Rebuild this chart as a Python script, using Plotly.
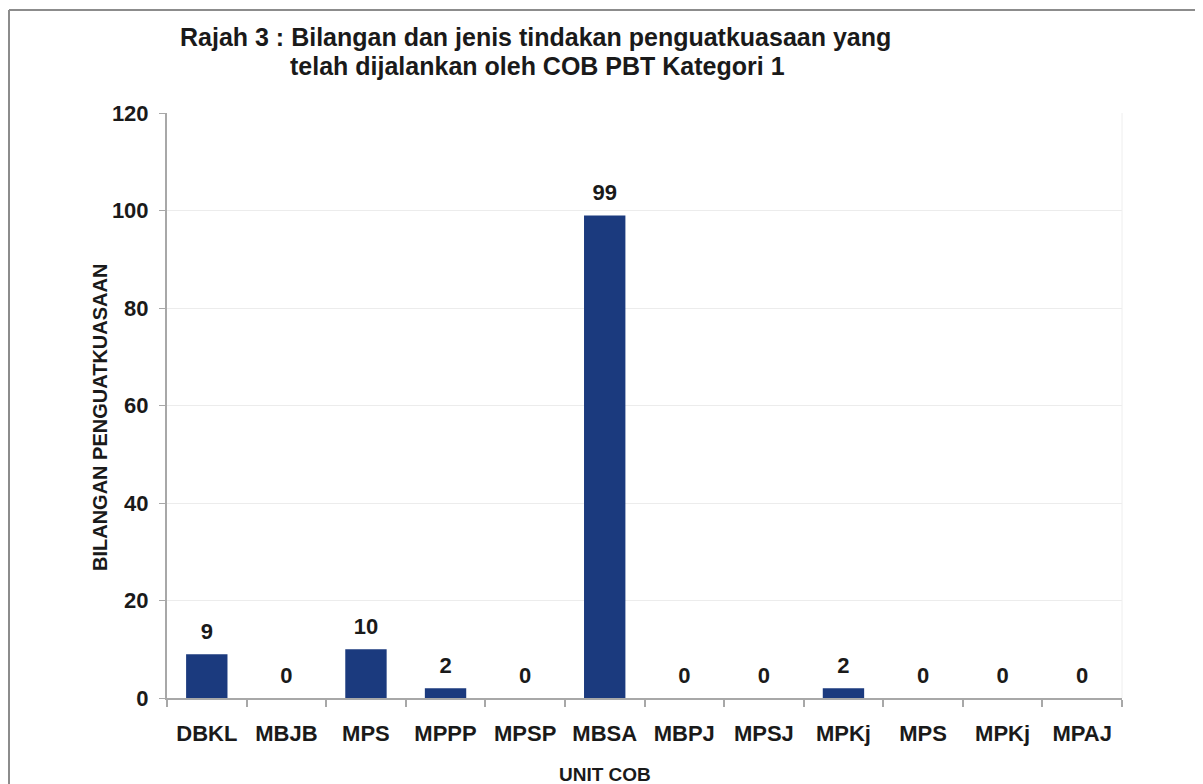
import plotly.graph_objects as go

categories = ["DBKL", "MBJB", "MPS", "MPPP", "MPSP", "MBSA", "MBPJ", "MPSJ", "MPKj", "MPS", "MPKj", "MPAJ"]
values = [9, 0, 10, 2, 0, 99, 0, 0, 2, 0, 0, 0]
y_ticks = [0, 20, 40, 60, 80, 100, 120]

title_line1 = "Rajah 3 : Bilangan dan jenis tindakan penguatkuasaan yang"
title_line2 = "telah dijalankan oleh COB PBT Kategori 1"
x_title = "UNIT COB"
y_title = "BILANGAN PENGUATKUASAAN"

FONT = "Liberation Sans, Arial, sans-serif"
INK = "#1a1a1a"
BAR = "#1b3a7e"
AXIS = "#a8a8a8"

positions = list(range(len(categories)))

# page offset (body margin) so that figure coords = page coords - OFF
OFF = 8
W, H = 1195, 776
L = 167 - OFF
PR = 1122 - OFF
T = 113 - OFF
PB = 698 - OFF
R, B = W - PR, H - PB
pw, ph = PR - L, PB - T


def px_x(x):
    return (x - OFF - L) / pw


def px_y(y):
    return (PB - (y - OFF)) / ph


fig = go.Figure()
fig.add_trace(go.Bar(
    x=positions, y=values,
    marker=dict(color=BAR, line=dict(width=0)),
    width=0.52,
    showlegend=False,
    hoverinfo="x+y",
))
# value labels above bars
fig.add_trace(go.Scatter(
    x=positions, y=values,
    mode="markers+text",
    marker=dict(size=14, opacity=0),
    text=[str(v) for v in values],
    textposition="top center",
    textfont=dict(family=FONT, size=22, color=INK, weight="bold"),
    cliponaxis=False,
    showlegend=False,
    hoverinfo="skip",
))

fig.update_layout(
    width=W, height=H,
    margin=dict(l=L, r=R, t=T, b=B, autoexpand=False),
    paper_bgcolor="white", plot_bgcolor="white",
    font=dict(family=FONT, color=INK),
    xaxis=dict(
        range=[-0.5, len(categories) - 0.5],
        tickmode="array", tickvals=positions, ticktext=categories,
        ticks="outside", ticklen=15, tickcolor="rgba(0,0,0,0)",
        tickfont=dict(family=FONT, size=22, color=INK, weight="bold"),
        showline=True, linecolor=AXIS, linewidth=2,
        showgrid=False, zeroline=False,
        minor=dict(ticks="outside", tickmode="linear", tick0=-0.5, dtick=1,
                   ticklen=7, tickcolor=AXIS, tickwidth=2, showgrid=False),
    ),
    yaxis=dict(
        range=[0, 120], tickmode="array", tickvals=y_ticks,
        ticks="outside", ticklen=6, tickcolor=AXIS, tickwidth=1,
        ticklabelstandoff=6,
        tickfont=dict(family=FONT, size=22, color=INK, weight="bold"),
        showline=True, linecolor=AXIS, linewidth=2,
        showgrid=True, gridcolor="#ececec", gridwidth=1,
        zeroline=False,
    ),
    annotations=[
        dict(text=title_line1, xref="paper", yref="paper", x=px_x(535), y=px_y(37),
             xanchor="center", yanchor="middle", showarrow=False,
             font=dict(family=FONT, size=25, color=INK, weight="bold")),
        dict(text=title_line2, xref="paper", yref="paper", x=px_x(537), y=px_y(66),
             xanchor="center", yanchor="middle", showarrow=False,
             font=dict(family=FONT, size=25, color=INK, weight="bold")),
        dict(text=x_title, xref="paper", yref="paper", x=px_x(605), y=px_y(774),
             xanchor="center", yanchor="middle", showarrow=False,
             font=dict(family=FONT, size=19, color=INK, weight="bold")),
        dict(text=y_title, xref="paper", yref="paper", x=px_x(100), y=px_y(418),
             xanchor="center", yanchor="middle", showarrow=False, textangle=-90,
             font=dict(family=FONT, size=20, color=INK, weight="bold")),
    ],
    shapes=[
        dict(type="line", xref="paper", yref="paper", x0=px_x(9), x1=px_x(1215),
             y0=px_y(10), y1=px_y(10), line=dict(color="#8c8c8c", width=2)),
        dict(type="line", xref="paper", yref="paper", x0=px_x(9), x1=px_x(9),
             y0=px_y(10), y1=px_y(800), line=dict(color="#8c8c8c", width=2)),
        dict(type="line", xref="paper", yref="paper", x0=1, x1=1,
             y0=0, y1=1, line=dict(color="#eeeeee", width=1)),
    ],
)

fig.write_html("out.html")
